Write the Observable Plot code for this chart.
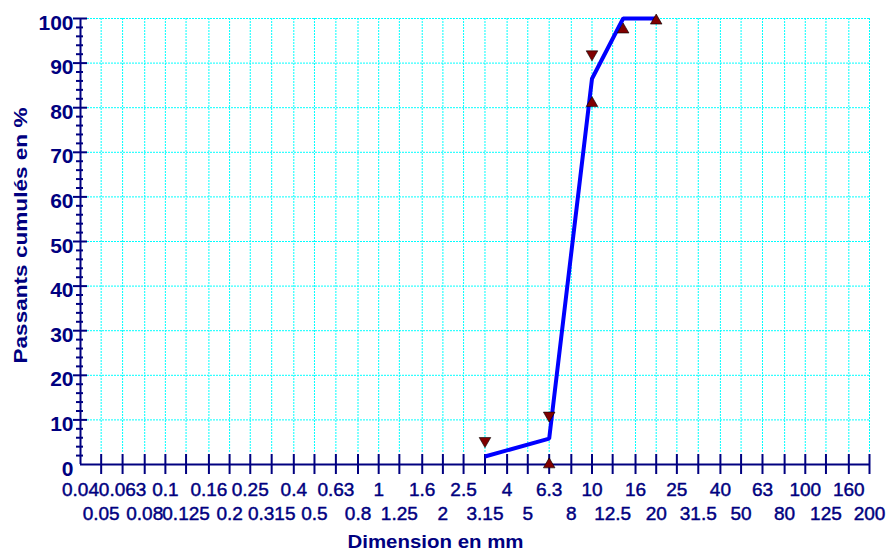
<!DOCTYPE html>
<html>
<head>
<meta charset="utf-8">
<script src="https://cdn.jsdelivr.net/npm/d3@7"></script>
<script src="https://cdn.jsdelivr.net/npm/@observablehq/plot@0.6"></script>
<style>
  html, body { margin: 0; padding: 0; background: #ffffff; }
  #chart svg { display: block; }
</style>
</head>
<body>
<div id="chart"></div>
<script>
// ---- Data ----
const xTicks = [0.04, 0.05, 0.063, 0.08, 0.1, 0.125, 0.16, 0.2, 0.25, 0.315, 0.4, 0.5, 0.63, 0.8, 1, 1.25, 1.6, 2, 2.5, 3.15, 4, 5, 6.3, 8, 10, 12.5, 16, 20, 25, 31.5, 40, 50, 63, 80, 100, 125, 160, 200];
const xTickLabels = ["0.04", "0.05", "0.063", "0.08", "0.1", "0.125", "0.16", "0.2", "0.25", "0.315", "0.4", "0.5", "0.63", "0.8", "1", "1.25", "1.6", "2", "2.5", "3.15", "4", "5", "6.3", "8", "10", "12.5", "16", "20", "25", "31.5", "40", "50", "63", "80", "100", "125", "160", "200"];
const yMajorTicks = [0, 10, 20, 30, 40, 50, 60, 70, 80, 90, 100];
const yMinorTicks = [2, 4, 6, 8, 12, 14, 16, 18, 22, 24, 26, 28, 32, 34, 36, 38, 42, 44, 46, 48, 52, 54, 56, 58, 62, 64, 66, 68, 72, 74, 76, 78, 82, 84, 86, 88, 92, 94, 96, 98];

// Grading curve (passants cumulés)
const curveX = [3.15, 6.3, 10, 14, 20];
const curveY = [1.8, 5.8, 86.5, 100, 100];

// Upper limits (down triangles)
const upperX = [3.15, 6.3, 10];
const upperY = [5.3, 11, 92];

// Lower limits (up triangles)
const lowerX = [6.3, 10, 14, 20];
const lowerY = [0, 81, 97.5, 99.5];

const xTitle = "Dimension en mm";
const yTitle = "Passants cumulés en %";

// ---- Style ----
const navy = "#000080";
const font = "'Liberation Sans', Arial, sans-serif";
const xMin = xTicks[0], xMax = xTicks[xTicks.length - 1];
const evenIdx = xTicks.map((_, i) => i).filter(i => i % 2 === 0);
const oddIdx = xTicks.map((_, i) => i).filter(i => i % 2 === 1);
const gridXIdx = xTicks.map((_, i) => i).filter(i => i > 0);
const gridYVals = yMajorTicks.filter(v => v > 0);
const yTickMajorVals = yMajorTicks.filter(v => v > 0);

const chart = Plot.plot({
  width: 887,
  height: 554,
  marginTop: 18,
  marginRight: 18,
  marginBottom: 90,
  marginLeft: 80,
  style: { background: "#ffffff", fontFamily: font },
  x: { type: "log", domain: [xMin, xMax], axis: null },
  y: { domain: [0, 100], axis: null },
  marks: [
    // vertical grid
    Plot.ruleX(gridXIdx, {
      x: i => xTicks[i], y1: 100, y2: 0, insetBottom: 11,
      stroke: "#00ffff", strokeWidth: 1, strokeDasharray: "2,1"
    }),
    // horizontal grid
    Plot.ruleY(gridYVals, {
      y: d => d, x1: xMin, x2: xMax, insetLeft: 7,
      stroke: "#00ffff", strokeWidth: 1, strokeDasharray: "2,1"
    }),
    // x ticks
    Plot.ruleX(gridXIdx, {
      x: i => xTicks[i], y1: 0, y2: 0, insetTop: -10, insetBottom: -10,
      stroke: navy, strokeWidth: 2
    }),
    // y major ticks
    Plot.ruleY(yTickMajorVals, {
      y: d => d, x1: xMin, x2: xMin, insetLeft: -7, insetRight: -7,
      stroke: navy, strokeWidth: 2
    }),
    // y minor ticks
    Plot.ruleY(yMinorTicks, {
      y: d => d, x1: xMin, x2: xMin, insetLeft: -4, insetRight: -3,
      stroke: navy, strokeWidth: 2
    }),
    // axis lines
    Plot.ruleX([xMin], { x: d => d, y1: 100, y2: 0, stroke: navy, strokeWidth: 2 }),
    Plot.ruleY([0], { y: d => d, x1: xMin, x2: xMax, stroke: navy, strokeWidth: 2 }),
    // x tick labels (two rows)
    Plot.text(evenIdx, {
      x: i => xTicks[i], y: 0, text: i => xTickLabels[i], dy: 25.4,
      fill: navy, stroke: navy, strokeWidth: 0.45, fontSize: 19, fontFamily: font
    }),
    Plot.text(oddIdx, {
      x: i => xTicks[i], y: 0, text: i => xTickLabels[i], dy: 49.7,
      fill: navy, stroke: navy, strokeWidth: 0.45, fontSize: 19, fontFamily: font
    }),
    // y tick labels
    Plot.text(yMajorTicks, {
      x: xMin, y: d => d, text: d => String(d), dx: -7, dy: 4.4, textAnchor: "end",
      fill: navy, fontSize: 21, fontWeight: "bold", fontFamily: font
    }),
    // curve
    Plot.line(curveX, {
      x: curveX, y: curveY, stroke: "#0000ff", strokeWidth: 4,
      strokeLinejoin: "miter", strokeLinecap: "butt", curve: "linear"
    }),
    // markers
    Plot.dot(upperX, {
      x: upperX, y: upperY, symbol: "triangle", rotate: 180, r: 4.3,
      fill: "#800000", stroke: "#000000", strokeWidth: 0.6
    }),
    Plot.dot(lowerX, {
      x: lowerX, y: lowerY, symbol: "triangle", r: 4.3,
      fill: "#800000", stroke: "#000000", strokeWidth: 0.6
    }),
    // axis titles (start-anchored, stretched afterwards)
    Plot.text([xTitle], {
      frameAnchor: "bottom-left", text: d => d, dx: 267, dy: 83.5, textAnchor: "start",
      fill: navy, fontSize: 18, fontWeight: "bold", fontFamily: font
    }),
    Plot.text([yTitle], {
      frameAnchor: "left", text: d => d, dx: -59, dy: 122, rotate: -90, textAnchor: "start",
      fill: navy, fontSize: 18, fontWeight: "bold", fontFamily: font
    })
  ]
});

document.getElementById("chart").appendChild(chart);

// stretch axis titles horizontally as in the reference
d3.select(chart).selectAll("text")
  .filter(function () { return this.textContent === xTitle; })
  .attr("textLength", 176).attr("lengthAdjust", "spacingAndGlyphs");
d3.select(chart).selectAll("text")
  .filter(function () { return this.textContent === yTitle; })
  .attr("textLength", 256).attr("lengthAdjust", "spacingAndGlyphs");
</script>
</body>
</html>
